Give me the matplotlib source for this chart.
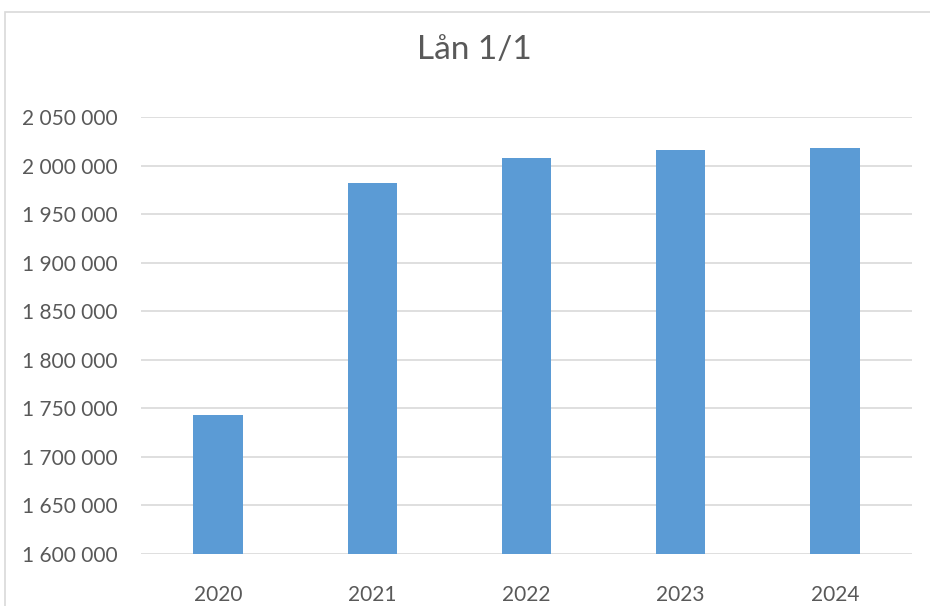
import matplotlib
matplotlib.use('Agg')
import matplotlib.pyplot as plt
import matplotlib.ticker as mticker
from matplotlib.patches import Rectangle

plt.rcParams['font.family'] = ['Lato', 'DejaVu Sans']

years = ['2020', '2021', '2022', '2023', '2024']
loans = [1743000, 1982000, 2008000, 2016000, 2018000]
title = 'Lån 1/1'

fig = plt.figure(figsize=(9.3, 6.06), dpi=100)
# outer chart frame (light grey, runs off the right/bottom edge)
fig.patches.append(Rectangle((5/930, -0.1), 1.0, 1 - 12/606 + 0.1, transform=fig.transFigure,
                             fill=False, edgecolor='#D9D9D9', linewidth=1.2))

ax = fig.add_axes([141/930, 1 - 554/606, 771/930, (554 - 117)/606])
ax.bar(years, loans, width=0.32, color='#5B9BD5', zorder=2)

ax.set_ylim(1600000, 2050000)
ax.set_xlim(-0.5, len(years) - 0.5)
ax.yaxis.set_major_locator(mticker.MultipleLocator(50000))
ax.yaxis.set_major_formatter(mticker.FuncFormatter(lambda v, p: f'{int(v):,}'.replace(',', ' ')))
ax.grid(axis='y', color='#D9D9D9', linewidth=1.2, zorder=0)

for s in ax.spines.values():
    s.set_visible(False)
ax.tick_params(axis='both', length=0, labelsize=15, colors='#595959')
ax.tick_params(axis='y', pad=17)
ax.tick_params(axis='x', pad=22)

fig.text(0.51, 1 - 50/606, title, ha='center', va='center', fontsize=24, color='#595959')

fig.savefig('out.png', dpi=100)
